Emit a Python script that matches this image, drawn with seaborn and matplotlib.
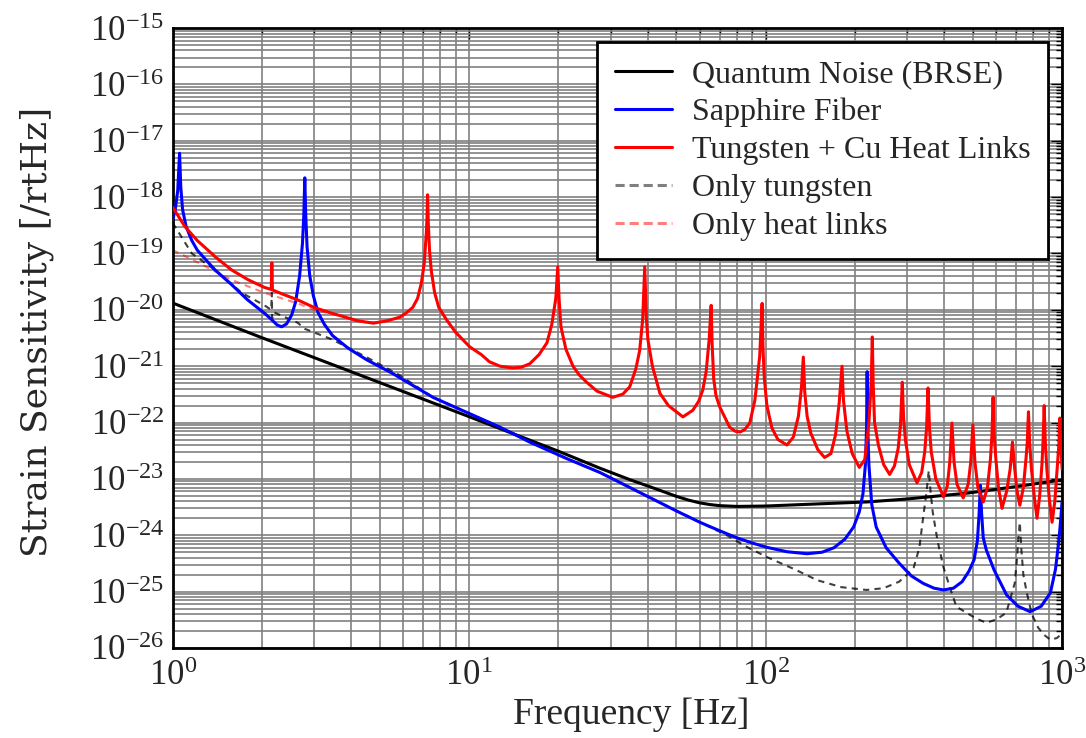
import numpy as np
import matplotlib
matplotlib.use('Agg')
import matplotlib.pyplot as plt
from matplotlib.ticker import LogLocator, NullFormatter
import seaborn as sns

# Quantum noise (BRSE)
qn_f = [1.0, 2.0, 5.0, 10.0, 20.0, 27.6, 35.0, 40.0, 45.0, 50.0, 55.0, 60.0, 65.0,
        70.0, 80.0, 100.0, 150.0, 220.0, 300.0, 480.0, 700.0, 1000.0]
qn_v = [1.32e-20, 3.2e-21, 5.1e-22, 1.27e-22, 3.1e-23, 1.55e-23, 9.6e-24, 7.5e-24,
        6.0e-24, 4.9e-24, 4.2e-24, 3.75e-24, 3.5e-24, 3.35e-24, 3.25e-24, 3.3e-24,
        3.6e-24, 3.9e-24, 4.4e-24, 5.6e-24, 7.3e-24, 9.6e-24]

# Sapphire fiber
sf_f = [1.0, 1.02, 1.04, 1.055, 1.065, 1.08, 1.11, 1.16, 1.21, 1.3, 1.39, 1.58,
        1.79, 2.04, 2.15, 2.25, 2.33, 2.42, 2.52, 2.6, 2.68, 2.74, 2.77, 2.79,
        2.81, 2.84, 2.9, 2.98, 3.09, 3.25, 3.46, 3.9, 4.51, 5.5, 7.55, 10.0,
        12.7, 16.0, 21.3, 27.6, 34.0, 41.6, 50.0, 60.0, 70.0, 80.0, 90.0, 101.0,
        118.0, 138.0, 155.0, 170.0, 185.0, 198.0, 207.0, 213.0, 217.0, 219.0,
        220.0, 221.0, 223.0, 228.0, 236.0, 255.0, 282.0, 310.0, 340.0, 370.0,
        398.0, 430.0, 460.0, 485.0, 505.0, 518.0, 525.0, 530.0, 535.0, 542.0,
        555.0, 590.0, 650.0, 710.0, 780.0, 850.0, 913.0, 950.0, 975.0, 990.0,
        1000.0]
sf_v = [3.9e-19, 6e-19, 1.3e-18, 6e-18, 1.5e-18, 6e-19, 3e-19, 1.7e-19, 1.15e-19,
        7.5e-20, 5.1e-20, 2.8e-20, 1.5e-20, 8.7e-21, 6.8e-21, 5.4e-21, 5.0e-21,
        5.6e-21, 8.1e-21, 1.4e-20, 4e-20, 1.5e-19, 5e-19, 2.2e-18, 5e-19,
        1.3e-19, 4e-20, 1.8e-20, 9e-21, 5.5e-21, 3.5e-21, 2.1e-21, 1.3e-21,
        7.5e-22, 2.8e-22, 1.45e-22, 8.3e-23, 4.5e-23, 2.3e-23, 1.3e-23, 7.5e-24,
        4.4e-24, 2.7e-24, 1.7e-24, 1.2e-24, 9e-25, 7.3e-25, 6.1e-25, 5.1e-25,
        4.7e-25, 5e-25, 6e-25, 8.5e-25, 1.4e-24, 2.6e-24, 5.5e-24, 1.8e-23,
        8e-23, 8e-22, 8e-23, 1.8e-23, 3.5e-24, 1.4e-24, 6e-25, 3.2e-25, 1.9e-25,
        1.4e-25, 1.15e-25, 1.07e-25, 1.15e-25, 1.5e-25, 2.3e-25, 3.7e-25, 8e-25,
        2.5e-24, 7.7e-24, 2.5e-24, 9e-25, 5.5e-25, 2.4e-25, 8.7e-26, 5.5e-26,
        4.4e-26, 5.5e-26, 9.5e-26, 2.5e-25, 8e-25, 2e-24, 4e-24]

# Tungsten + Cu heat links
tw_f = [1.0, 1.1, 1.21, 1.4, 1.58, 1.8, 2.04, 2.15, 2.16, 2.17, 2.35, 2.64, 3.0,
        3.44, 3.7, 4.2, 4.75, 5.3, 5.83, 6.1, 6.45, 6.7, 6.9, 7.05, 7.17, 7.21,
        7.24, 7.28, 7.35, 7.45, 7.65, 7.9, 8.4, 9.0, 10.05, 11.0, 11.7, 12.7,
        14.0, 15.0, 16.0, 17.2, 18.3, 19.0, 19.6, 19.9, 20.1, 20.4, 21.2, 22.4,
        23.5, 24.9, 27.0, 30.5, 33.0, 34.8, 36.5, 37.6, 38.5, 39.1, 39.6, 40.1,
        41.5, 44.0, 47.0, 52.6, 56.8, 59.5, 61.4, 63.0, 64.5, 65.5, 66.0, 66.8,
        68.0, 70.0, 75.6, 79.0, 82.0, 85.0, 88.4, 92.0, 95.5, 97.3, 98.0, 99.0,
        101.0, 105.0, 110.0, 118.0, 124.0, 129.0, 132.0, 134.0, 135.5, 138.0,
        142.0, 150.0, 158.0, 166.0, 172.0, 177.0, 181.0, 183.0, 188.0, 196.0,
        207.0, 216.0, 223.0, 227.0, 229.0, 230.5, 233.0, 240.0, 250.0, 262.0,
        272.0, 280.0, 285.0, 289.0, 292.0, 296.0, 305.0, 324.0, 336.0, 344.0,
        349.0, 353.0, 357.0, 362.0, 375.0, 398.0, 410.0, 418.0, 425.0, 432.0,
        442.0, 464.0, 482.0, 492.0, 500.0, 508.0, 520.0, 542.0, 560.0, 573.0,
        580.0, 585.0, 590.0, 598.0, 610.0, 627.0, 650.0, 668.0, 680.0, 692.0,
        705.0, 720.0, 740.0, 755.0, 763.0, 770.0, 777.0, 788.0, 805.0, 823.0,
        840.0, 855.0, 863.0, 870.0, 877.0, 888.0, 905.0, 925.0, 945.0, 962.0,
        975.0, 983.0, 990.0, 1000.0]
tw_v = [6.6e-19, 3.0e-19, 1.7e-19, 8.5e-20, 5.1e-20, 3.4e-20, 2.5e-20, 2.3e-20,
        6.8e-20, 2.25e-20, 1.9e-20, 1.5e-20, 1.1e-20, 8.7e-21, 7.8e-21, 6.4e-21,
        5.8e-21, 6.4e-21, 7.4e-21, 8.6e-21, 1.1e-20, 1.6e-20, 3.0e-20, 6.5e-20,
        2.3e-19, 4.5e-19, 1.1e-18, 3.5e-19, 1.15e-19, 5e-20, 2.0e-20, 1.1e-20,
        6.6e-21, 4e-21, 2.2e-21, 1.6e-21, 1.2e-21, 1.0e-21, 9.3e-22, 9.6e-22,
        1.1e-21, 1.6e-21, 2.6e-21, 5.5e-21, 1.6e-20, 5.8e-20, 1.6e-20, 5e-21,
        2e-21, 1e-21, 7e-22, 5.2e-22, 3.6e-22, 2.8e-22, 3.2e-22, 4.3e-22, 9e-22,
        1.9e-21, 7e-21, 5.8e-20, 7e-21, 2.9e-21, 1e-21, 3.3e-22, 2e-22, 1.26e-22,
        1.65e-22, 2.4e-22, 3.8e-22, 8e-22, 3e-21, 1.2e-20, 2.5e-21, 6e-22, 3e-22,
        1.9e-22, 8.3e-23, 7e-23, 6.8e-23, 7.5e-23, 9.8e-23, 2.5e-22, 1.5e-21,
        1.3e-20, 2e-21, 6e-22, 2e-22, 8e-23, 5e-23, 4e-23, 5.5e-23, 1.3e-22,
        4e-22, 1.45e-21, 3.5e-22, 1.3e-22, 6.5e-23, 3.3e-23, 2.4e-23, 2.8e-23,
        6e-23, 2.2e-22, 1e-21, 2.5e-22, 7e-23, 2.8e-23, 1.6e-23, 2.2e-23, 1e-22,
        5e-22, 3.3e-21, 5e-22, 1e-22, 4e-23, 1.8e-23, 1.2e-23, 1.7e-23, 3.5e-23,
        9e-23, 5.2e-22, 1.2e-22, 5e-23, 1.8e-23, 8.5e-24, 1.3e-23, 3e-23, 8e-23,
        4.1e-22, 8e-23, 3e-23, 1e-23, 4.8e-24, 7.5e-24, 2e-23, 9.8e-23, 2e-23,
        8e-24, 4.6e-24, 8e-24, 2e-23, 9.1e-23, 2e-23, 7e-24, 3.9e-24, 7e-24,
        2.2e-23, 6e-23, 2.8e-22, 6e-23, 2.2e-23, 7e-24, 3e-24, 6e-24, 1.5e-23,
        4.5e-23, 1.5e-23, 6e-24, 3.4e-24, 7e-24, 2.2e-23, 4.5e-23, 1.55e-22,
        4.5e-23, 1.5e-23, 5e-24, 2e-24, 5e-24, 1.8e-23, 5e-23, 2e-22, 5e-23,
        1.5e-23, 4.5e-24, 1.7e-24, 4e-24, 1.5e-23, 4e-23, 1.2e-22, 4e-23, 1.5e-23]

# Only tungsten
ot_f = [1.0, 1.16, 1.39, 1.71, 2.04, 2.15, 2.16, 2.165, 2.2, 2.64, 2.79, 3.44,
        4.5, 5.83, 7.55, 12.7, 21.3, 27.6, 41.6, 60.0, 74.0, 85.0, 101.0, 125.0,
        149.0, 180.0, 219.0, 250.0, 282.0, 300.0, 316.0, 330.0, 340.0, 349.0,
        355.0, 360.0, 366.0, 380.0, 398.0, 418.0, 440.0, 476.0, 515.0, 555.0,
        600.0, 648.0, 692.0, 705.0, 712.0, 720.0, 728.0, 740.0, 760.0, 790.0,
        830.0, 870.0, 913.0, 960.0, 1000.0]
ot_v = [3.5e-19, 1e-19, 5.1e-20, 2e-20, 1.2e-20, 1.0e-20, 2.0e-20, 7e-21, 9e-21,
        5.9e-21, 4.6e-21, 3.0e-21, 1.45e-21, 6.9e-22, 2.8e-22, 8.3e-23, 2.3e-23,
        1.3e-23, 4.4e-24, 1.7e-24, 1.0e-24, 6.5e-25, 4.1e-25, 2.5e-25, 1.6e-25,
        1.2e-25, 1.07e-25, 1.15e-25, 1.5e-25, 2e-25, 2.7e-25, 6e-25, 2.1e-24,
        6e-24, 1.4e-23, 6e-24, 2.6e-24, 8e-25, 2.7e-25, 1.2e-25, 5.4e-26,
        4.2e-26, 3.3e-26, 2.8e-26, 3.2e-26, 4.2e-26, 1.4e-25, 4e-25, 9e-25,
        1.7e-24, 6e-25, 2e-25, 9.6e-26, 4e-26, 2.3e-26, 1.7e-26, 1.4e-26,
        1.5e-26, 1.8e-26]

# Only heat links
oh_f = [1.0, 1.21, 1.58, 2.04, 2.64, 3.0, 3.44, 4.0, 4.5]
oh_v = [1.15e-19, 7e-20, 3.4e-20, 2e-20, 1.3e-20, 1.0e-20, 8.5e-21, 6.8e-21, 5.9e-21]

sns.set_style('white')
plt.rcParams['font.family'] = ['Liberation Serif', 'DejaVu Serif']
plt.rcParams['mathtext.fontset'] = 'custom'
plt.rcParams['mathtext.rm'] = 'Liberation Serif'

fig, ax = plt.subplots(figsize=(10.86, 7.38), dpi=100)
fig.subplots_adjust(left=0.159, right=0.978, top=0.962, bottom=0.122)

sns.lineplot(x=ot_f, y=ot_v, ax=ax, color='k', alpha=0.75, lw=1.5,
             estimator=None, sort=False, zorder=2).lines[-1].set_dashes((3, 2.5))
sns.lineplot(x=oh_f, y=oh_v, ax=ax, color='r', alpha=0.5, lw=1.5,
             estimator=None, sort=False, zorder=2).lines[-1].set_dashes((3, 2.5))
sns.lineplot(x=qn_f, y=qn_v, ax=ax, color='k', lw=2.2, estimator=None, sort=False,
             label='Quantum Noise (BRSE)', zorder=3)
sns.lineplot(x=sf_f, y=sf_v, ax=ax, color='b', lw=2.2, estimator=None, sort=False,
             label='Sapphire Fiber', zorder=3)
sns.lineplot(x=tw_f, y=tw_v, ax=ax, color='r', lw=2.2, estimator=None, sort=False,
             label='Tungsten + Cu Heat Links', zorder=3)
ax.plot([], [], color='k', alpha=0.5, lw=2.2, dashes=(3, 1.6), label='Only tungsten')
ax.plot([], [], color='r', alpha=0.5, lw=2.2, dashes=(3, 1.6), label='Only heat links')

ax.set_xscale('log')
ax.set_yscale('log')
ax.set_xlim(1, 1000)
ax.set_ylim(1e-26, 1e-15)
ax.set_yticks([10.0 ** e for e in range(-26, -14)])
ax.yaxis.set_minor_locator(LogLocator(base=10, subs=np.arange(2, 10), numticks=100))
ax.yaxis.set_minor_formatter(NullFormatter())
ax.xaxis.set_minor_locator(LogLocator(base=10, subs=np.arange(2, 10), numticks=100))

ax.grid(True, which='both', color='0.5', lw=1.2, linestyle='-')
ax.set_axisbelow(True)
ax.tick_params(which='both', direction='in', top=True, right=True, labelsize=25,
               color='k')
ax.tick_params(axis='x', pad=9)
ax.tick_params(axis='y', pad=6)
ax.tick_params(which='major', length=8, width=1)
ax.tick_params(which='minor', length=4, width=1)
for s in ax.spines.values():
    s.set_color('k')
    s.set_linewidth(2)

ax.set_xlabel('Frequency [Hz]', fontsize=27)
ax.xaxis.set_label_coords(0.515, -0.08)
ax.set_ylabel('Strain Sensitivity [/rtHz]', fontsize=26, family='DejaVu Serif')
ax.yaxis.set_label_coords(-0.133, 0.51)

leg = ax.legend(loc='upper right', fontsize=23, frameon=True, fancybox=False,
                framealpha=1, edgecolor='k', handlelength=1.8, handletextpad=0.6,
                labelspacing=0.27, borderaxespad=0.45, borderpad=0.55)
leg.get_frame().set_linewidth(2)

fig.savefig('out.png', dpi=100)
